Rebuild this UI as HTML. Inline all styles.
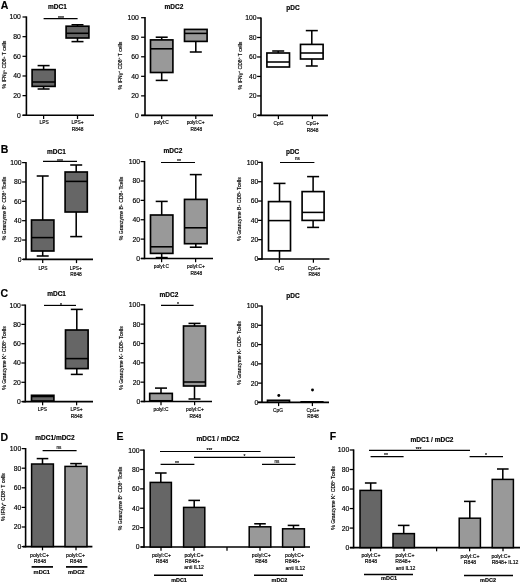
<!DOCTYPE html>
<html><head><meta charset="utf-8"><title>Figure</title>
<style>
html,body{margin:0;padding:0;background:#fff;}
svg{display:block;font-family:"Liberation Sans",sans-serif;}
text{stroke:#000;stroke-width:0.16px;}
</style></head>
<body>
<svg width="520" height="583" viewBox="0 0 520 583">
<rect width="520" height="583" fill="#fff"/>
<g>
<text x="0.80" y="9.00" font-size="10.5" text-anchor="start" font-weight="bold" fill="#000">A</text>
<line x1="26.40" y1="16.40" x2="26.40" y2="116.00" stroke="#000" stroke-width="1.6"/>
<line x1="22.60" y1="115.30" x2="94.00" y2="115.30" stroke="#000" stroke-width="1.6"/>
<line x1="22.50" y1="17.00" x2="26.40" y2="17.00" stroke="#000" stroke-width="1.25"/>
<text x="20.80" y="19.45" font-size="6.8" text-anchor="end" font-weight="normal" fill="#000">100</text>
<line x1="22.50" y1="36.66" x2="26.40" y2="36.66" stroke="#000" stroke-width="1.25"/>
<text x="20.80" y="39.11" font-size="6.8" text-anchor="end" font-weight="normal" fill="#000">80</text>
<line x1="22.50" y1="56.32" x2="26.40" y2="56.32" stroke="#000" stroke-width="1.25"/>
<text x="20.80" y="58.77" font-size="6.8" text-anchor="end" font-weight="normal" fill="#000">60</text>
<line x1="22.50" y1="75.98" x2="26.40" y2="75.98" stroke="#000" stroke-width="1.25"/>
<text x="20.80" y="78.43" font-size="6.8" text-anchor="end" font-weight="normal" fill="#000">40</text>
<line x1="22.50" y1="95.64" x2="26.40" y2="95.64" stroke="#000" stroke-width="1.25"/>
<text x="20.80" y="98.09" font-size="6.8" text-anchor="end" font-weight="normal" fill="#000">20</text>
<line x1="22.50" y1="115.30" x2="26.40" y2="115.30" stroke="#000" stroke-width="1.25"/>
<text x="20.80" y="117.75" font-size="6.8" text-anchor="end" font-weight="normal" fill="#000">0</text>
<line x1="43.60" y1="115.30" x2="43.60" y2="119.00" stroke="#000" stroke-width="1.25"/>
<line x1="77.50" y1="115.30" x2="77.50" y2="119.00" stroke="#000" stroke-width="1.25"/>
<line x1="43.60" y1="65.60" x2="43.60" y2="69.60" stroke="#000" stroke-width="1.55"/>
<line x1="37.60" y1="65.60" x2="49.60" y2="65.60" stroke="#000" stroke-width="1.55"/>
<line x1="43.60" y1="86.40" x2="43.60" y2="89.00" stroke="#000" stroke-width="1.55"/>
<line x1="37.60" y1="89.00" x2="49.60" y2="89.00" stroke="#000" stroke-width="1.55"/>
<rect x="32.10" y="69.60" width="23.00" height="16.80" fill="#666666" stroke="#000" stroke-width="1.6500000000000001"/>
<line x1="32.10" y1="82.00" x2="55.10" y2="82.00" stroke="#000" stroke-width="1.55"/>
<line x1="77.50" y1="24.80" x2="77.50" y2="26.20" stroke="#000" stroke-width="1.55"/>
<line x1="71.50" y1="24.80" x2="83.50" y2="24.80" stroke="#000" stroke-width="1.55"/>
<line x1="77.50" y1="38.00" x2="77.50" y2="41.60" stroke="#000" stroke-width="1.55"/>
<line x1="71.50" y1="41.60" x2="83.50" y2="41.60" stroke="#000" stroke-width="1.55"/>
<rect x="66.10" y="26.20" width="22.80" height="11.80" fill="#666666" stroke="#000" stroke-width="1.6500000000000001"/>
<line x1="66.10" y1="33.30" x2="88.90" y2="33.30" stroke="#000" stroke-width="1.55"/>
<line x1="43.60" y1="18.60" x2="77.60" y2="18.60" stroke="#000" stroke-width="1.15"/>
<text x="61.00" y="19.70" font-size="5.0" text-anchor="middle" font-weight="normal" fill="#000">***</text>
<text x="57.50" y="9.30" font-size="6.5" text-anchor="middle" font-weight="bold" fill="#000">mDC1</text>
<text x="44.20" y="124.40" font-size="4.85" text-anchor="middle" font-weight="normal" fill="#000">LPS</text>
<text x="77.60" y="124.20" font-size="4.85" text-anchor="middle" font-weight="normal" fill="#000">LPS+</text>
<text x="77.60" y="130.60" font-size="4.85" text-anchor="middle" font-weight="normal" fill="#000">R848</text>
<text transform="translate(6.45,64.50) rotate(-90)" font-size="5.1" text-anchor="middle" fill="#000">% IFNγ<tspan dy="-1.6" font-size="3">+</tspan><tspan dy="1.6"> CD8</tspan><tspan dy="-1.6" font-size="3">+</tspan><tspan dy="1.6"> T cells</tspan></text>
<line x1="145.00" y1="17.10" x2="145.00" y2="116.10" stroke="#000" stroke-width="1.6"/>
<line x1="141.20" y1="115.40" x2="213.00" y2="115.40" stroke="#000" stroke-width="1.6"/>
<line x1="141.10" y1="17.70" x2="145.00" y2="17.70" stroke="#000" stroke-width="1.25"/>
<text x="138.80" y="20.15" font-size="6.8" text-anchor="end" font-weight="normal" fill="#000">100</text>
<line x1="141.10" y1="37.24" x2="145.00" y2="37.24" stroke="#000" stroke-width="1.25"/>
<text x="138.80" y="39.69" font-size="6.8" text-anchor="end" font-weight="normal" fill="#000">80</text>
<line x1="141.10" y1="56.78" x2="145.00" y2="56.78" stroke="#000" stroke-width="1.25"/>
<text x="138.80" y="59.23" font-size="6.8" text-anchor="end" font-weight="normal" fill="#000">60</text>
<line x1="141.10" y1="76.32" x2="145.00" y2="76.32" stroke="#000" stroke-width="1.25"/>
<text x="138.80" y="78.77" font-size="6.8" text-anchor="end" font-weight="normal" fill="#000">40</text>
<line x1="141.10" y1="95.86" x2="145.00" y2="95.86" stroke="#000" stroke-width="1.25"/>
<text x="138.80" y="98.31" font-size="6.8" text-anchor="end" font-weight="normal" fill="#000">20</text>
<line x1="141.10" y1="115.40" x2="145.00" y2="115.40" stroke="#000" stroke-width="1.25"/>
<text x="138.80" y="117.85" font-size="6.8" text-anchor="end" font-weight="normal" fill="#000">0</text>
<line x1="161.70" y1="115.40" x2="161.70" y2="119.10" stroke="#000" stroke-width="1.25"/>
<line x1="195.80" y1="115.40" x2="195.80" y2="119.10" stroke="#000" stroke-width="1.25"/>
<line x1="161.70" y1="37.20" x2="161.70" y2="39.90" stroke="#000" stroke-width="1.55"/>
<line x1="155.70" y1="37.20" x2="167.70" y2="37.20" stroke="#000" stroke-width="1.55"/>
<line x1="161.70" y1="72.50" x2="161.70" y2="80.40" stroke="#000" stroke-width="1.55"/>
<line x1="155.70" y1="80.40" x2="167.70" y2="80.40" stroke="#000" stroke-width="1.55"/>
<rect x="150.50" y="39.90" width="22.40" height="32.60" fill="#999999" stroke="#000" stroke-width="1.6500000000000001"/>
<line x1="150.50" y1="48.80" x2="172.90" y2="48.80" stroke="#000" stroke-width="1.55"/>
<line x1="195.80" y1="41.40" x2="195.80" y2="52.00" stroke="#000" stroke-width="1.55"/>
<line x1="189.80" y1="52.00" x2="201.80" y2="52.00" stroke="#000" stroke-width="1.55"/>
<rect x="184.50" y="29.40" width="22.60" height="12.00" fill="#999999" stroke="#000" stroke-width="1.6500000000000001"/>
<line x1="184.50" y1="33.40" x2="207.10" y2="33.40" stroke="#000" stroke-width="1.55"/>
<text x="173.90" y="8.80" font-size="6.5" text-anchor="middle" font-weight="bold" fill="#000">mDC2</text>
<text x="161.30" y="124.40" font-size="4.85" text-anchor="middle" font-weight="normal" fill="#000">polyI:C</text>
<text x="195.60" y="124.40" font-size="4.85" text-anchor="middle" font-weight="normal" fill="#000">polyI:C+</text>
<text x="196.40" y="130.60" font-size="4.85" text-anchor="middle" font-weight="normal" fill="#000">R848</text>
<text transform="translate(121.75,65.50) rotate(-90)" font-size="5.1" text-anchor="middle" fill="#000">% IFNγ<tspan dy="-1.6" font-size="3">+</tspan><tspan dy="1.6"> CD8</tspan><tspan dy="-1.6" font-size="3">+</tspan><tspan dy="1.6"> T cells</tspan></text>
<line x1="261.00" y1="17.40" x2="261.00" y2="116.10" stroke="#000" stroke-width="1.6"/>
<line x1="258.00" y1="115.40" x2="328.00" y2="115.40" stroke="#000" stroke-width="1.6"/>
<line x1="257.10" y1="18.00" x2="261.00" y2="18.00" stroke="#000" stroke-width="1.25"/>
<text x="256.60" y="20.45" font-size="6.8" text-anchor="end" font-weight="normal" fill="#000">100</text>
<line x1="257.10" y1="37.48" x2="261.00" y2="37.48" stroke="#000" stroke-width="1.25"/>
<text x="256.60" y="39.93" font-size="6.8" text-anchor="end" font-weight="normal" fill="#000">80</text>
<line x1="257.10" y1="56.96" x2="261.00" y2="56.96" stroke="#000" stroke-width="1.25"/>
<text x="256.60" y="59.41" font-size="6.8" text-anchor="end" font-weight="normal" fill="#000">60</text>
<line x1="257.10" y1="76.44" x2="261.00" y2="76.44" stroke="#000" stroke-width="1.25"/>
<text x="256.60" y="78.89" font-size="6.8" text-anchor="end" font-weight="normal" fill="#000">40</text>
<line x1="257.10" y1="95.92" x2="261.00" y2="95.92" stroke="#000" stroke-width="1.25"/>
<text x="256.60" y="98.37" font-size="6.8" text-anchor="end" font-weight="normal" fill="#000">20</text>
<line x1="257.10" y1="115.40" x2="261.00" y2="115.40" stroke="#000" stroke-width="1.25"/>
<text x="256.60" y="117.85" font-size="6.8" text-anchor="end" font-weight="normal" fill="#000">0</text>
<line x1="278.40" y1="115.40" x2="278.40" y2="119.10" stroke="#000" stroke-width="1.25"/>
<line x1="312.40" y1="115.40" x2="312.40" y2="119.10" stroke="#000" stroke-width="1.25"/>
<line x1="278.20" y1="51.00" x2="278.20" y2="53.00" stroke="#000" stroke-width="1.55"/>
<line x1="272.20" y1="51.00" x2="284.20" y2="51.00" stroke="#000" stroke-width="1.55"/>
<rect x="266.90" y="53.00" width="22.60" height="14.00" fill="#ffffff" stroke="#000" stroke-width="1.6500000000000001"/>
<line x1="266.90" y1="62.00" x2="289.50" y2="62.00" stroke="#000" stroke-width="1.55"/>
<line x1="311.80" y1="30.60" x2="311.80" y2="44.40" stroke="#000" stroke-width="1.55"/>
<line x1="305.80" y1="30.60" x2="317.80" y2="30.60" stroke="#000" stroke-width="1.55"/>
<line x1="311.80" y1="59.00" x2="311.80" y2="66.00" stroke="#000" stroke-width="1.55"/>
<line x1="305.80" y1="66.00" x2="317.80" y2="66.00" stroke="#000" stroke-width="1.55"/>
<rect x="300.50" y="44.40" width="22.60" height="14.60" fill="#ffffff" stroke="#000" stroke-width="1.6500000000000001"/>
<line x1="300.50" y1="53.00" x2="323.10" y2="53.00" stroke="#000" stroke-width="1.55"/>
<text x="293.00" y="10.40" font-size="6.5" text-anchor="middle" font-weight="bold" fill="#000">pDC</text>
<text x="278.60" y="125.40" font-size="4.85" text-anchor="middle" font-weight="normal" fill="#000">CpG</text>
<text x="312.60" y="125.40" font-size="4.85" text-anchor="middle" font-weight="normal" fill="#000">CpG+</text>
<text x="312.60" y="132.00" font-size="4.85" text-anchor="middle" font-weight="normal" fill="#000">R848</text>
<text transform="translate(241.75,65.50) rotate(-90)" font-size="5.1" text-anchor="middle" fill="#000">% IFNγ<tspan dy="-1.6" font-size="3">+</tspan><tspan dy="1.6"> CD8</tspan><tspan dy="-1.6" font-size="3">+</tspan><tspan dy="1.6"> T cells</tspan></text>
<text x="0.80" y="153.40" font-size="10.5" text-anchor="start" font-weight="bold" fill="#000">B</text>
<line x1="26.00" y1="162.00" x2="26.00" y2="260.10" stroke="#000" stroke-width="1.6"/>
<line x1="23.00" y1="259.40" x2="93.00" y2="259.40" stroke="#000" stroke-width="1.6"/>
<line x1="22.10" y1="162.60" x2="26.00" y2="162.60" stroke="#000" stroke-width="1.25"/>
<text x="21.60" y="165.05" font-size="6.8" text-anchor="end" font-weight="normal" fill="#000">100</text>
<line x1="22.10" y1="181.96" x2="26.00" y2="181.96" stroke="#000" stroke-width="1.25"/>
<text x="21.60" y="184.41" font-size="6.8" text-anchor="end" font-weight="normal" fill="#000">80</text>
<line x1="22.10" y1="201.32" x2="26.00" y2="201.32" stroke="#000" stroke-width="1.25"/>
<text x="21.60" y="203.77" font-size="6.8" text-anchor="end" font-weight="normal" fill="#000">60</text>
<line x1="22.10" y1="220.68" x2="26.00" y2="220.68" stroke="#000" stroke-width="1.25"/>
<text x="21.60" y="223.13" font-size="6.8" text-anchor="end" font-weight="normal" fill="#000">40</text>
<line x1="22.10" y1="240.04" x2="26.00" y2="240.04" stroke="#000" stroke-width="1.25"/>
<text x="21.60" y="242.49" font-size="6.8" text-anchor="end" font-weight="normal" fill="#000">20</text>
<line x1="22.10" y1="259.40" x2="26.00" y2="259.40" stroke="#000" stroke-width="1.25"/>
<text x="21.60" y="261.85" font-size="6.8" text-anchor="end" font-weight="normal" fill="#000">0</text>
<line x1="42.70" y1="259.40" x2="42.70" y2="263.10" stroke="#000" stroke-width="1.25"/>
<line x1="76.50" y1="259.40" x2="76.50" y2="263.10" stroke="#000" stroke-width="1.25"/>
<line x1="42.70" y1="176.00" x2="42.70" y2="220.00" stroke="#000" stroke-width="1.55"/>
<line x1="36.70" y1="176.00" x2="48.70" y2="176.00" stroke="#000" stroke-width="1.55"/>
<line x1="42.70" y1="251.00" x2="42.70" y2="256.00" stroke="#000" stroke-width="1.55"/>
<line x1="36.70" y1="256.00" x2="48.70" y2="256.00" stroke="#000" stroke-width="1.55"/>
<rect x="31.50" y="220.00" width="22.40" height="31.00" fill="#666666" stroke="#000" stroke-width="1.6500000000000001"/>
<line x1="31.50" y1="237.60" x2="53.90" y2="237.60" stroke="#000" stroke-width="1.55"/>
<line x1="76.20" y1="165.00" x2="76.20" y2="172.00" stroke="#000" stroke-width="1.55"/>
<line x1="70.20" y1="165.00" x2="82.20" y2="165.00" stroke="#000" stroke-width="1.55"/>
<line x1="76.20" y1="212.00" x2="76.20" y2="236.60" stroke="#000" stroke-width="1.55"/>
<line x1="70.20" y1="236.60" x2="82.20" y2="236.60" stroke="#000" stroke-width="1.55"/>
<rect x="65.10" y="172.00" width="22.20" height="40.00" fill="#666666" stroke="#000" stroke-width="1.6500000000000001"/>
<line x1="65.10" y1="181.40" x2="87.30" y2="181.40" stroke="#000" stroke-width="1.55"/>
<line x1="43.00" y1="161.40" x2="77.00" y2="161.40" stroke="#000" stroke-width="1.15"/>
<text x="60.00" y="162.50" font-size="5.0" text-anchor="middle" font-weight="normal" fill="#000">***</text>
<text x="56.40" y="154.00" font-size="6.5" text-anchor="middle" font-weight="bold" fill="#000">mDC1</text>
<text x="43.00" y="270.00" font-size="4.85" text-anchor="middle" font-weight="normal" fill="#000">LPS</text>
<text x="75.80" y="270.00" font-size="4.85" text-anchor="middle" font-weight="normal" fill="#000">LPS+</text>
<text x="76.00" y="276.00" font-size="4.85" text-anchor="middle" font-weight="normal" fill="#000">R848</text>
<text transform="translate(5.65,208.50) rotate(-90)" font-size="5.1" text-anchor="middle" fill="#000">% Granzyme B<tspan dy="-1.6" font-size="3">+</tspan><tspan dy="1.6"> CD8</tspan><tspan dy="-1.6" font-size="3">+</tspan><tspan dy="1.6"> Tcells</tspan></text>
<line x1="144.50" y1="161.00" x2="144.50" y2="259.20" stroke="#000" stroke-width="1.6"/>
<line x1="141.00" y1="258.50" x2="213.00" y2="258.50" stroke="#000" stroke-width="1.6"/>
<line x1="140.60" y1="161.60" x2="144.50" y2="161.60" stroke="#000" stroke-width="1.25"/>
<text x="140.10" y="164.05" font-size="6.8" text-anchor="end" font-weight="normal" fill="#000">100</text>
<line x1="140.60" y1="180.98" x2="144.50" y2="180.98" stroke="#000" stroke-width="1.25"/>
<text x="140.10" y="183.43" font-size="6.8" text-anchor="end" font-weight="normal" fill="#000">80</text>
<line x1="140.60" y1="200.36" x2="144.50" y2="200.36" stroke="#000" stroke-width="1.25"/>
<text x="140.10" y="202.81" font-size="6.8" text-anchor="end" font-weight="normal" fill="#000">60</text>
<line x1="140.60" y1="219.74" x2="144.50" y2="219.74" stroke="#000" stroke-width="1.25"/>
<text x="140.10" y="222.19" font-size="6.8" text-anchor="end" font-weight="normal" fill="#000">40</text>
<line x1="140.60" y1="239.12" x2="144.50" y2="239.12" stroke="#000" stroke-width="1.25"/>
<text x="140.10" y="241.57" font-size="6.8" text-anchor="end" font-weight="normal" fill="#000">20</text>
<line x1="140.60" y1="258.50" x2="144.50" y2="258.50" stroke="#000" stroke-width="1.25"/>
<text x="140.10" y="260.95" font-size="6.8" text-anchor="end" font-weight="normal" fill="#000">0</text>
<line x1="161.60" y1="258.50" x2="161.60" y2="262.20" stroke="#000" stroke-width="1.25"/>
<line x1="195.60" y1="258.50" x2="195.60" y2="262.20" stroke="#000" stroke-width="1.25"/>
<line x1="161.70" y1="201.40" x2="161.70" y2="215.00" stroke="#000" stroke-width="1.55"/>
<line x1="155.70" y1="201.40" x2="167.70" y2="201.40" stroke="#000" stroke-width="1.55"/>
<line x1="161.70" y1="253.40" x2="161.70" y2="257.60" stroke="#000" stroke-width="1.55"/>
<line x1="155.70" y1="257.60" x2="167.70" y2="257.60" stroke="#000" stroke-width="1.55"/>
<rect x="150.50" y="215.00" width="22.40" height="38.40" fill="#999999" stroke="#000" stroke-width="1.6500000000000001"/>
<line x1="150.50" y1="246.80" x2="172.90" y2="246.80" stroke="#000" stroke-width="1.55"/>
<line x1="195.80" y1="174.60" x2="195.80" y2="199.40" stroke="#000" stroke-width="1.55"/>
<line x1="189.80" y1="174.60" x2="201.80" y2="174.60" stroke="#000" stroke-width="1.55"/>
<line x1="195.80" y1="243.70" x2="195.80" y2="247.20" stroke="#000" stroke-width="1.55"/>
<line x1="189.80" y1="247.20" x2="201.80" y2="247.20" stroke="#000" stroke-width="1.55"/>
<rect x="184.50" y="199.40" width="22.60" height="44.30" fill="#999999" stroke="#000" stroke-width="1.6500000000000001"/>
<line x1="184.50" y1="227.80" x2="207.10" y2="227.80" stroke="#000" stroke-width="1.55"/>
<line x1="161.00" y1="162.50" x2="195.00" y2="162.50" stroke="#000" stroke-width="1.15"/>
<text x="179.00" y="162.50" font-size="5.0" text-anchor="middle" font-weight="normal" fill="#000">**</text>
<text x="173.00" y="153.40" font-size="6.5" text-anchor="middle" font-weight="bold" fill="#000">mDC2</text>
<text x="161.40" y="268.30" font-size="4.85" text-anchor="middle" font-weight="normal" fill="#000">polyI:C</text>
<text x="196.00" y="268.40" font-size="4.85" text-anchor="middle" font-weight="normal" fill="#000">polyI:C+</text>
<text x="196.40" y="275.00" font-size="4.85" text-anchor="middle" font-weight="normal" fill="#000">R848</text>
<text transform="translate(123.25,208.50) rotate(-90)" font-size="5.1" text-anchor="middle" fill="#000">% Granzyme B<tspan dy="-1.6" font-size="3">+</tspan><tspan dy="1.6"> CD8</tspan><tspan dy="-1.6" font-size="3">+</tspan><tspan dy="1.6"> Tcells</tspan></text>
<line x1="262.00" y1="161.80" x2="262.00" y2="259.70" stroke="#000" stroke-width="1.6"/>
<line x1="258.00" y1="259.00" x2="329.40" y2="259.00" stroke="#000" stroke-width="1.6"/>
<line x1="258.10" y1="162.40" x2="262.00" y2="162.40" stroke="#000" stroke-width="1.25"/>
<text x="258.20" y="164.85" font-size="6.8" text-anchor="end" font-weight="normal" fill="#000">100</text>
<line x1="258.10" y1="181.72" x2="262.00" y2="181.72" stroke="#000" stroke-width="1.25"/>
<text x="258.20" y="184.17" font-size="6.8" text-anchor="end" font-weight="normal" fill="#000">80</text>
<line x1="258.10" y1="201.04" x2="262.00" y2="201.04" stroke="#000" stroke-width="1.25"/>
<text x="258.20" y="203.49" font-size="6.8" text-anchor="end" font-weight="normal" fill="#000">60</text>
<line x1="258.10" y1="220.36" x2="262.00" y2="220.36" stroke="#000" stroke-width="1.25"/>
<text x="258.20" y="222.81" font-size="6.8" text-anchor="end" font-weight="normal" fill="#000">40</text>
<line x1="258.10" y1="239.68" x2="262.00" y2="239.68" stroke="#000" stroke-width="1.25"/>
<text x="258.20" y="242.13" font-size="6.8" text-anchor="end" font-weight="normal" fill="#000">20</text>
<line x1="258.10" y1="259.00" x2="262.00" y2="259.00" stroke="#000" stroke-width="1.25"/>
<text x="258.20" y="261.45" font-size="6.8" text-anchor="end" font-weight="normal" fill="#000">0</text>
<line x1="279.40" y1="259.00" x2="279.40" y2="262.70" stroke="#000" stroke-width="1.25"/>
<line x1="313.40" y1="259.00" x2="313.40" y2="262.70" stroke="#000" stroke-width="1.25"/>
<line x1="279.50" y1="183.40" x2="279.50" y2="201.60" stroke="#000" stroke-width="1.55"/>
<line x1="273.50" y1="183.40" x2="285.50" y2="183.40" stroke="#000" stroke-width="1.55"/>
<line x1="279.50" y1="250.80" x2="279.50" y2="258.60" stroke="#000" stroke-width="1.55"/>
<rect x="268.50" y="201.60" width="22.00" height="49.20" fill="#ffffff" stroke="#000" stroke-width="1.6500000000000001"/>
<line x1="268.50" y1="220.60" x2="290.50" y2="220.60" stroke="#000" stroke-width="1.55"/>
<line x1="313.10" y1="176.60" x2="313.10" y2="191.60" stroke="#000" stroke-width="1.55"/>
<line x1="307.10" y1="176.60" x2="319.10" y2="176.60" stroke="#000" stroke-width="1.55"/>
<line x1="313.10" y1="220.40" x2="313.10" y2="227.40" stroke="#000" stroke-width="1.55"/>
<line x1="307.10" y1="227.40" x2="319.10" y2="227.40" stroke="#000" stroke-width="1.55"/>
<rect x="302.10" y="191.60" width="22.00" height="28.80" fill="#ffffff" stroke="#000" stroke-width="1.6500000000000001"/>
<line x1="302.10" y1="212.40" x2="324.10" y2="212.40" stroke="#000" stroke-width="1.55"/>
<line x1="280.00" y1="162.50" x2="314.40" y2="162.50" stroke="#000" stroke-width="1.15"/>
<text x="297.40" y="160.30" font-size="4.6" text-anchor="middle" font-weight="normal" fill="#000">ns</text>
<text x="292.60" y="153.80" font-size="6.5" text-anchor="middle" font-weight="bold" fill="#000">pDC</text>
<text x="279.40" y="269.60" font-size="4.85" text-anchor="middle" font-weight="normal" fill="#000">CpG</text>
<text x="314.20" y="269.60" font-size="4.85" text-anchor="middle" font-weight="normal" fill="#000">CpG+</text>
<text x="314.20" y="275.80" font-size="4.85" text-anchor="middle" font-weight="normal" fill="#000">R848</text>
<text transform="translate(241.25,209.00) rotate(-90)" font-size="5.1" text-anchor="middle" fill="#000">% Granzyme B<tspan dy="-1.6" font-size="3">+</tspan><tspan dy="1.6"> CD8</tspan><tspan dy="-1.6" font-size="3">+</tspan><tspan dy="1.6"> Tcells</tspan></text>
<text x="0.40" y="297.20" font-size="10.5" text-anchor="start" font-weight="bold" fill="#000">C</text>
<line x1="25.30" y1="304.50" x2="25.30" y2="402.30" stroke="#000" stroke-width="1.6"/>
<line x1="22.40" y1="401.60" x2="93.00" y2="401.60" stroke="#000" stroke-width="1.6"/>
<line x1="21.40" y1="305.10" x2="25.30" y2="305.10" stroke="#000" stroke-width="1.25"/>
<text x="20.90" y="307.55" font-size="6.8" text-anchor="end" font-weight="normal" fill="#000">100</text>
<line x1="21.40" y1="324.40" x2="25.30" y2="324.40" stroke="#000" stroke-width="1.25"/>
<text x="20.90" y="326.85" font-size="6.8" text-anchor="end" font-weight="normal" fill="#000">80</text>
<line x1="21.40" y1="343.70" x2="25.30" y2="343.70" stroke="#000" stroke-width="1.25"/>
<text x="20.90" y="346.15" font-size="6.8" text-anchor="end" font-weight="normal" fill="#000">60</text>
<line x1="21.40" y1="363.00" x2="25.30" y2="363.00" stroke="#000" stroke-width="1.25"/>
<text x="20.90" y="365.45" font-size="6.8" text-anchor="end" font-weight="normal" fill="#000">40</text>
<line x1="21.40" y1="382.30" x2="25.30" y2="382.30" stroke="#000" stroke-width="1.25"/>
<text x="20.90" y="384.75" font-size="6.8" text-anchor="end" font-weight="normal" fill="#000">20</text>
<line x1="21.40" y1="401.60" x2="25.30" y2="401.60" stroke="#000" stroke-width="1.25"/>
<text x="20.90" y="404.05" font-size="6.8" text-anchor="end" font-weight="normal" fill="#000">0</text>
<line x1="42.60" y1="401.60" x2="42.60" y2="405.30" stroke="#000" stroke-width="1.25"/>
<line x1="76.60" y1="401.60" x2="76.60" y2="405.30" stroke="#000" stroke-width="1.25"/>
<rect x="31.50" y="395.30" width="22.40" height="5.70" fill="#666666" stroke="#000" stroke-width="1.6500000000000001"/>
<line x1="31.50" y1="396.50" x2="53.90" y2="396.50" stroke="#000" stroke-width="1.55"/>
<line x1="76.80" y1="309.40" x2="76.80" y2="330.00" stroke="#000" stroke-width="1.55"/>
<line x1="70.80" y1="309.40" x2="82.80" y2="309.40" stroke="#000" stroke-width="1.55"/>
<line x1="76.80" y1="368.60" x2="76.80" y2="374.40" stroke="#000" stroke-width="1.55"/>
<line x1="70.80" y1="374.40" x2="82.80" y2="374.40" stroke="#000" stroke-width="1.55"/>
<rect x="65.50" y="330.00" width="22.60" height="38.60" fill="#666666" stroke="#000" stroke-width="1.6500000000000001"/>
<line x1="65.50" y1="358.60" x2="88.10" y2="358.60" stroke="#000" stroke-width="1.55"/>
<line x1="44.00" y1="305.40" x2="76.00" y2="305.40" stroke="#000" stroke-width="1.15"/>
<text x="61.00" y="306.50" font-size="5.0" text-anchor="middle" font-weight="normal" fill="#000">*</text>
<text x="56.60" y="296.40" font-size="6.5" text-anchor="middle" font-weight="bold" fill="#000">mDC1</text>
<text x="42.40" y="411.20" font-size="4.85" text-anchor="middle" font-weight="normal" fill="#000">LPS</text>
<text x="76.60" y="411.20" font-size="4.85" text-anchor="middle" font-weight="normal" fill="#000">LPS+</text>
<text x="76.60" y="417.60" font-size="4.85" text-anchor="middle" font-weight="normal" fill="#000">R848</text>
<text transform="translate(5.65,358.00) rotate(-90)" font-size="5.1" text-anchor="middle" fill="#000">% Granzyme K<tspan dy="-1.6" font-size="3">+</tspan><tspan dy="1.6"> CD8</tspan><tspan dy="-1.6" font-size="3">+</tspan><tspan dy="1.6"> Tcells</tspan></text>
<line x1="144.40" y1="304.20" x2="144.40" y2="402.20" stroke="#000" stroke-width="1.6"/>
<line x1="141.00" y1="401.50" x2="212.00" y2="401.50" stroke="#000" stroke-width="1.6"/>
<line x1="140.50" y1="304.80" x2="144.40" y2="304.80" stroke="#000" stroke-width="1.25"/>
<text x="140.20" y="307.25" font-size="6.8" text-anchor="end" font-weight="normal" fill="#000">100</text>
<line x1="140.50" y1="324.14" x2="144.40" y2="324.14" stroke="#000" stroke-width="1.25"/>
<text x="140.20" y="326.59" font-size="6.8" text-anchor="end" font-weight="normal" fill="#000">80</text>
<line x1="140.50" y1="343.48" x2="144.40" y2="343.48" stroke="#000" stroke-width="1.25"/>
<text x="140.20" y="345.93" font-size="6.8" text-anchor="end" font-weight="normal" fill="#000">60</text>
<line x1="140.50" y1="362.82" x2="144.40" y2="362.82" stroke="#000" stroke-width="1.25"/>
<text x="140.20" y="365.27" font-size="6.8" text-anchor="end" font-weight="normal" fill="#000">40</text>
<line x1="140.50" y1="382.16" x2="144.40" y2="382.16" stroke="#000" stroke-width="1.25"/>
<text x="140.20" y="384.61" font-size="6.8" text-anchor="end" font-weight="normal" fill="#000">20</text>
<line x1="140.50" y1="401.50" x2="144.40" y2="401.50" stroke="#000" stroke-width="1.25"/>
<text x="140.20" y="403.95" font-size="6.8" text-anchor="end" font-weight="normal" fill="#000">0</text>
<line x1="161.00" y1="401.50" x2="161.00" y2="405.20" stroke="#000" stroke-width="1.25"/>
<line x1="194.60" y1="401.50" x2="194.60" y2="405.20" stroke="#000" stroke-width="1.25"/>
<line x1="161.00" y1="388.10" x2="161.00" y2="393.40" stroke="#000" stroke-width="1.55"/>
<line x1="155.00" y1="388.10" x2="167.00" y2="388.10" stroke="#000" stroke-width="1.55"/>
<rect x="149.70" y="393.40" width="22.60" height="7.40" fill="#999999" stroke="#000" stroke-width="1.6500000000000001"/>
<line x1="194.50" y1="323.40" x2="194.50" y2="326.00" stroke="#000" stroke-width="1.55"/>
<line x1="188.50" y1="323.40" x2="200.50" y2="323.40" stroke="#000" stroke-width="1.55"/>
<line x1="194.50" y1="386.00" x2="194.50" y2="399.00" stroke="#000" stroke-width="1.55"/>
<line x1="188.50" y1="399.00" x2="200.50" y2="399.00" stroke="#000" stroke-width="1.55"/>
<rect x="183.50" y="326.00" width="22.00" height="60.00" fill="#999999" stroke="#000" stroke-width="1.6500000000000001"/>
<line x1="183.50" y1="382.00" x2="205.50" y2="382.00" stroke="#000" stroke-width="1.55"/>
<line x1="161.00" y1="305.40" x2="193.60" y2="305.40" stroke="#000" stroke-width="1.15"/>
<text x="178.00" y="306.10" font-size="5.0" text-anchor="middle" font-weight="normal" fill="#000">*</text>
<text x="169.00" y="296.80" font-size="6.5" text-anchor="middle" font-weight="bold" fill="#000">mDC2</text>
<text x="161.00" y="411.40" font-size="4.85" text-anchor="middle" font-weight="normal" fill="#000">polyI:C</text>
<text x="195.00" y="411.20" font-size="4.85" text-anchor="middle" font-weight="normal" fill="#000">polyI:C+</text>
<text x="195.40" y="417.60" font-size="4.85" text-anchor="middle" font-weight="normal" fill="#000">R848</text>
<text transform="translate(123.25,358.00) rotate(-90)" font-size="5.1" text-anchor="middle" fill="#000">% Granzyme K<tspan dy="-1.6" font-size="3">+</tspan><tspan dy="1.6"> CD8</tspan><tspan dy="-1.6" font-size="3">+</tspan><tspan dy="1.6"> Tcells</tspan></text>
<line x1="262.00" y1="305.40" x2="262.00" y2="403.10" stroke="#000" stroke-width="1.6"/>
<line x1="258.00" y1="402.40" x2="329.00" y2="402.40" stroke="#000" stroke-width="1.6"/>
<line x1="258.10" y1="306.00" x2="262.00" y2="306.00" stroke="#000" stroke-width="1.25"/>
<text x="258.20" y="308.45" font-size="6.8" text-anchor="end" font-weight="normal" fill="#000">100</text>
<line x1="258.10" y1="325.28" x2="262.00" y2="325.28" stroke="#000" stroke-width="1.25"/>
<text x="258.20" y="327.73" font-size="6.8" text-anchor="end" font-weight="normal" fill="#000">80</text>
<line x1="258.10" y1="344.56" x2="262.00" y2="344.56" stroke="#000" stroke-width="1.25"/>
<text x="258.20" y="347.01" font-size="6.8" text-anchor="end" font-weight="normal" fill="#000">60</text>
<line x1="258.10" y1="363.84" x2="262.00" y2="363.84" stroke="#000" stroke-width="1.25"/>
<text x="258.20" y="366.29" font-size="6.8" text-anchor="end" font-weight="normal" fill="#000">40</text>
<line x1="258.10" y1="383.12" x2="262.00" y2="383.12" stroke="#000" stroke-width="1.25"/>
<text x="258.20" y="385.57" font-size="6.8" text-anchor="end" font-weight="normal" fill="#000">20</text>
<line x1="258.10" y1="402.40" x2="262.00" y2="402.40" stroke="#000" stroke-width="1.25"/>
<text x="258.20" y="404.85" font-size="6.8" text-anchor="end" font-weight="normal" fill="#000">0</text>
<line x1="278.60" y1="402.40" x2="278.60" y2="406.10" stroke="#000" stroke-width="1.25"/>
<line x1="312.40" y1="402.40" x2="312.40" y2="406.10" stroke="#000" stroke-width="1.25"/>
<rect x="267.50" y="400.30" width="22.00" height="1.90" fill="#ffffff" stroke="#000" stroke-width="1.6500000000000001"/>
<line x1="300.40" y1="401.60" x2="323.60" y2="401.60" stroke="#000" stroke-width="1.2"/>
<circle cx="278.8" cy="395.5" r="1.45" fill="#000"/>
<circle cx="312.5" cy="390" r="1.45" fill="#000"/>
<text x="293.00" y="298.40" font-size="6.5" text-anchor="middle" font-weight="bold" fill="#000">pDC</text>
<text x="278.00" y="412.00" font-size="4.85" text-anchor="middle" font-weight="normal" fill="#000">CpG</text>
<text x="313.00" y="412.00" font-size="4.85" text-anchor="middle" font-weight="normal" fill="#000">CpG+</text>
<text x="313.00" y="418.40" font-size="4.85" text-anchor="middle" font-weight="normal" fill="#000">R848</text>
<text transform="translate(241.25,353.00) rotate(-90)" font-size="5.1" text-anchor="middle" fill="#000">% Granzyme K<tspan dy="-1.6" font-size="3">+</tspan><tspan dy="1.6"> CD8</tspan><tspan dy="-1.6" font-size="3">+</tspan><tspan dy="1.6"> Tcells</tspan></text>
<text x="0.40" y="441.00" font-size="10.5" text-anchor="start" font-weight="bold" fill="#000">D</text>
<line x1="25.60" y1="448.00" x2="25.60" y2="547.30" stroke="#000" stroke-width="1.6"/>
<line x1="23.00" y1="546.60" x2="92.40" y2="546.60" stroke="#000" stroke-width="1.6"/>
<line x1="21.70" y1="448.60" x2="25.60" y2="448.60" stroke="#000" stroke-width="1.25"/>
<text x="21.20" y="451.05" font-size="6.8" text-anchor="end" font-weight="normal" fill="#000">100</text>
<line x1="21.70" y1="468.20" x2="25.60" y2="468.20" stroke="#000" stroke-width="1.25"/>
<text x="21.20" y="470.65" font-size="6.8" text-anchor="end" font-weight="normal" fill="#000">80</text>
<line x1="21.70" y1="487.80" x2="25.60" y2="487.80" stroke="#000" stroke-width="1.25"/>
<text x="21.20" y="490.25" font-size="6.8" text-anchor="end" font-weight="normal" fill="#000">60</text>
<line x1="21.70" y1="507.40" x2="25.60" y2="507.40" stroke="#000" stroke-width="1.25"/>
<text x="21.20" y="509.85" font-size="6.8" text-anchor="end" font-weight="normal" fill="#000">40</text>
<line x1="21.70" y1="527.00" x2="25.60" y2="527.00" stroke="#000" stroke-width="1.25"/>
<text x="21.20" y="529.45" font-size="6.8" text-anchor="end" font-weight="normal" fill="#000">20</text>
<line x1="21.70" y1="546.60" x2="25.60" y2="546.60" stroke="#000" stroke-width="1.25"/>
<text x="21.20" y="549.05" font-size="6.8" text-anchor="end" font-weight="normal" fill="#000">0</text>
<line x1="42.50" y1="546.60" x2="42.50" y2="550.30" stroke="#000" stroke-width="1.25"/>
<line x1="76.00" y1="546.60" x2="76.00" y2="550.30" stroke="#000" stroke-width="1.25"/>
<line x1="42.50" y1="458.60" x2="42.50" y2="464.00" stroke="#000" stroke-width="1.55"/>
<line x1="36.70" y1="458.60" x2="48.30" y2="458.60" stroke="#000" stroke-width="1.55"/>
<rect x="31.60" y="464.00" width="21.80" height="82.60" fill="#666666" stroke="#000" stroke-width="1.5"/>
<line x1="76.00" y1="463.60" x2="76.00" y2="466.40" stroke="#000" stroke-width="1.55"/>
<line x1="70.20" y1="463.60" x2="81.80" y2="463.60" stroke="#000" stroke-width="1.55"/>
<rect x="65.00" y="466.40" width="22.00" height="80.20" fill="#999999" stroke="#000" stroke-width="1.5"/>
<line x1="42.60" y1="450.60" x2="76.60" y2="450.60" stroke="#000" stroke-width="1.15"/>
<text x="59.00" y="449.30" font-size="4.6" text-anchor="middle" font-weight="normal" fill="#000">ns</text>
<text x="55.00" y="440.40" font-size="6.5" text-anchor="middle" font-weight="bold" fill="#000">mDC1/mDC2</text>
<text x="39.60" y="556.95" font-size="5.15" text-anchor="middle" font-weight="normal" fill="#000">polyI:C+</text>
<text x="40.00" y="562.95" font-size="5.15" text-anchor="middle" font-weight="normal" fill="#000">R848</text>
<text x="75.60" y="556.95" font-size="5.15" text-anchor="middle" font-weight="normal" fill="#000">polyI:C+</text>
<text x="76.00" y="562.95" font-size="5.15" text-anchor="middle" font-weight="normal" fill="#000">R848</text>
<line x1="31.60" y1="566.90" x2="53.00" y2="566.90" stroke="#000" stroke-width="1.7"/>
<line x1="66.00" y1="566.90" x2="87.40" y2="566.90" stroke="#000" stroke-width="1.7"/>
<text x="41.80" y="573.50" font-size="5.7" text-anchor="middle" font-weight="bold" fill="#000">mDC1</text>
<text x="76.20" y="573.50" font-size="5.7" text-anchor="middle" font-weight="bold" fill="#000">mDC2</text>
<text transform="translate(4.75,497.00) rotate(-90)" font-size="5.1" text-anchor="middle" fill="#000">% IFNγ<tspan dy="-1.6" font-size="3">+</tspan><tspan dy="1.6"> CD8</tspan><tspan dy="-1.6" font-size="3">+</tspan><tspan dy="1.6"> T cells</tspan></text>
<text x="116.60" y="440.30" font-size="10.5" text-anchor="start" font-weight="bold" fill="#000">E</text>
<line x1="144.00" y1="449.50" x2="144.00" y2="547.70" stroke="#000" stroke-width="1.6"/>
<line x1="141.00" y1="547.00" x2="310.00" y2="547.00" stroke="#000" stroke-width="1.6"/>
<line x1="140.10" y1="450.10" x2="144.00" y2="450.10" stroke="#000" stroke-width="1.25"/>
<text x="139.60" y="452.55" font-size="6.8" text-anchor="end" font-weight="normal" fill="#000">100</text>
<line x1="140.10" y1="469.48" x2="144.00" y2="469.48" stroke="#000" stroke-width="1.25"/>
<text x="139.60" y="471.93" font-size="6.8" text-anchor="end" font-weight="normal" fill="#000">80</text>
<line x1="140.10" y1="488.86" x2="144.00" y2="488.86" stroke="#000" stroke-width="1.25"/>
<text x="139.60" y="491.31" font-size="6.8" text-anchor="end" font-weight="normal" fill="#000">60</text>
<line x1="140.10" y1="508.24" x2="144.00" y2="508.24" stroke="#000" stroke-width="1.25"/>
<text x="139.60" y="510.69" font-size="6.8" text-anchor="end" font-weight="normal" fill="#000">40</text>
<line x1="140.10" y1="527.62" x2="144.00" y2="527.62" stroke="#000" stroke-width="1.25"/>
<text x="139.60" y="530.07" font-size="6.8" text-anchor="end" font-weight="normal" fill="#000">20</text>
<line x1="140.10" y1="547.00" x2="144.00" y2="547.00" stroke="#000" stroke-width="1.25"/>
<text x="139.60" y="549.45" font-size="6.8" text-anchor="end" font-weight="normal" fill="#000">0</text>
<line x1="161.00" y1="547.00" x2="161.00" y2="550.70" stroke="#000" stroke-width="1.25"/>
<line x1="194.00" y1="547.00" x2="194.00" y2="550.70" stroke="#000" stroke-width="1.25"/>
<line x1="227.00" y1="547.00" x2="227.00" y2="550.70" stroke="#000" stroke-width="1.25"/>
<line x1="260.00" y1="547.00" x2="260.00" y2="550.70" stroke="#000" stroke-width="1.25"/>
<line x1="293.60" y1="547.00" x2="293.60" y2="550.70" stroke="#000" stroke-width="1.25"/>
<line x1="160.80" y1="473.00" x2="160.80" y2="482.40" stroke="#000" stroke-width="1.55"/>
<line x1="155.00" y1="473.00" x2="166.60" y2="473.00" stroke="#000" stroke-width="1.55"/>
<rect x="150.20" y="482.40" width="21.20" height="64.60" fill="#666666" stroke="#000" stroke-width="1.5"/>
<line x1="194.20" y1="500.40" x2="194.20" y2="507.40" stroke="#000" stroke-width="1.55"/>
<line x1="188.40" y1="500.40" x2="200.00" y2="500.40" stroke="#000" stroke-width="1.55"/>
<rect x="183.60" y="507.40" width="21.20" height="39.60" fill="#666666" stroke="#000" stroke-width="1.5"/>
<line x1="260.00" y1="523.80" x2="260.00" y2="526.80" stroke="#000" stroke-width="1.55"/>
<line x1="254.20" y1="523.80" x2="265.80" y2="523.80" stroke="#000" stroke-width="1.55"/>
<rect x="249.20" y="526.80" width="21.60" height="20.20" fill="#999999" stroke="#000" stroke-width="1.5"/>
<line x1="293.50" y1="525.40" x2="293.50" y2="528.80" stroke="#000" stroke-width="1.55"/>
<line x1="287.70" y1="525.40" x2="299.30" y2="525.40" stroke="#000" stroke-width="1.55"/>
<rect x="282.60" y="528.80" width="21.80" height="18.20" fill="#999999" stroke="#000" stroke-width="1.5"/>
<line x1="160.00" y1="451.50" x2="260.60" y2="451.50" stroke="#000" stroke-width="1.15"/>
<text x="209.40" y="451.70" font-size="5.0" text-anchor="middle" font-weight="normal" fill="#000">***</text>
<line x1="194.00" y1="457.40" x2="295.00" y2="457.40" stroke="#000" stroke-width="1.15"/>
<text x="244.40" y="457.90" font-size="5.0" text-anchor="middle" font-weight="normal" fill="#000">*</text>
<line x1="160.60" y1="464.40" x2="194.40" y2="464.40" stroke="#000" stroke-width="1.15"/>
<text x="177.00" y="465.10" font-size="5.0" text-anchor="middle" font-weight="normal" fill="#000">**</text>
<line x1="262.00" y1="464.40" x2="295.60" y2="464.40" stroke="#000" stroke-width="1.15"/>
<text x="277.00" y="462.80" font-size="4.6" text-anchor="middle" font-weight="normal" fill="#000">ns</text>
<text x="218.00" y="441.40" font-size="6.5" text-anchor="middle" font-weight="bold" fill="#000">mDC1 / mDC2</text>
<text x="161.40" y="557.15" font-size="5.15" text-anchor="middle" font-weight="normal" fill="#000">polyI:C+</text>
<text x="162.00" y="562.95" font-size="5.15" text-anchor="middle" font-weight="normal" fill="#000">R848</text>
<text x="194.00" y="557.15" font-size="5.15" text-anchor="middle" font-weight="normal" fill="#000">polyI:C+</text>
<text x="192.60" y="562.95" font-size="5.15" text-anchor="middle" font-weight="normal" fill="#000">R848+</text>
<text x="194.00" y="569.05" font-size="5.15" text-anchor="middle" font-weight="normal" fill="#000">anti IL12</text>
<text x="261.30" y="557.05" font-size="5.15" text-anchor="middle" font-weight="normal" fill="#000">polyI:C+</text>
<text x="261.30" y="563.05" font-size="5.15" text-anchor="middle" font-weight="normal" fill="#000">R848</text>
<text x="294.60" y="556.95" font-size="5.15" text-anchor="middle" font-weight="normal" fill="#000">polyI:C+</text>
<text x="292.60" y="562.55" font-size="5.15" text-anchor="middle" font-weight="normal" fill="#000">R848+</text>
<text x="295.30" y="570.05" font-size="5.15" text-anchor="middle" font-weight="normal" fill="#000">anti IL12</text>
<line x1="154.00" y1="575.30" x2="203.00" y2="575.30" stroke="#000" stroke-width="1.5"/>
<line x1="254.00" y1="575.30" x2="303.00" y2="575.30" stroke="#000" stroke-width="1.5"/>
<text x="179.00" y="582.00" font-size="5.4" text-anchor="middle" font-weight="bold" fill="#000">mDC1</text>
<text x="279.40" y="582.00" font-size="5.4" text-anchor="middle" font-weight="bold" fill="#000">mDC2</text>
<text transform="translate(121.55,498.50) rotate(-90)" font-size="5.1" text-anchor="middle" fill="#000">% Granzyme B<tspan dy="-1.6" font-size="3">+</tspan><tspan dy="1.6"> CD8</tspan><tspan dy="-1.6" font-size="3">+</tspan><tspan dy="1.6"> Tcells</tspan></text>
<text x="329.80" y="440.30" font-size="10.5" text-anchor="start" font-weight="bold" fill="#000">F</text>
<line x1="353.60" y1="449.40" x2="353.60" y2="548.30" stroke="#000" stroke-width="1.6"/>
<line x1="350.00" y1="547.60" x2="520.00" y2="547.60" stroke="#000" stroke-width="1.6"/>
<line x1="349.70" y1="450.00" x2="353.60" y2="450.00" stroke="#000" stroke-width="1.25"/>
<text x="349.20" y="452.45" font-size="6.8" text-anchor="end" font-weight="normal" fill="#000">100</text>
<line x1="349.70" y1="469.52" x2="353.60" y2="469.52" stroke="#000" stroke-width="1.25"/>
<text x="349.20" y="471.97" font-size="6.8" text-anchor="end" font-weight="normal" fill="#000">80</text>
<line x1="349.70" y1="489.04" x2="353.60" y2="489.04" stroke="#000" stroke-width="1.25"/>
<text x="349.20" y="491.49" font-size="6.8" text-anchor="end" font-weight="normal" fill="#000">60</text>
<line x1="349.70" y1="508.56" x2="353.60" y2="508.56" stroke="#000" stroke-width="1.25"/>
<text x="349.20" y="511.01" font-size="6.8" text-anchor="end" font-weight="normal" fill="#000">40</text>
<line x1="349.70" y1="528.08" x2="353.60" y2="528.08" stroke="#000" stroke-width="1.25"/>
<text x="349.20" y="530.53" font-size="6.8" text-anchor="end" font-weight="normal" fill="#000">20</text>
<line x1="349.70" y1="547.60" x2="353.60" y2="547.60" stroke="#000" stroke-width="1.25"/>
<text x="349.20" y="550.05" font-size="6.8" text-anchor="end" font-weight="normal" fill="#000">0</text>
<line x1="370.60" y1="547.60" x2="370.60" y2="551.30" stroke="#000" stroke-width="1.25"/>
<line x1="404.00" y1="547.60" x2="404.00" y2="551.30" stroke="#000" stroke-width="1.25"/>
<line x1="436.60" y1="547.60" x2="436.60" y2="551.30" stroke="#000" stroke-width="1.25"/>
<line x1="469.60" y1="547.60" x2="469.60" y2="551.30" stroke="#000" stroke-width="1.25"/>
<line x1="503.00" y1="547.60" x2="503.00" y2="551.30" stroke="#000" stroke-width="1.25"/>
<line x1="370.70" y1="483.00" x2="370.70" y2="490.40" stroke="#000" stroke-width="1.55"/>
<line x1="364.90" y1="483.00" x2="376.50" y2="483.00" stroke="#000" stroke-width="1.55"/>
<rect x="360.00" y="490.40" width="21.40" height="57.20" fill="#666666" stroke="#000" stroke-width="1.5"/>
<line x1="403.70" y1="525.40" x2="403.70" y2="533.60" stroke="#000" stroke-width="1.55"/>
<line x1="397.90" y1="525.40" x2="409.50" y2="525.40" stroke="#000" stroke-width="1.55"/>
<rect x="393.00" y="533.60" width="21.40" height="14.00" fill="#666666" stroke="#000" stroke-width="1.5"/>
<line x1="469.80" y1="501.40" x2="469.80" y2="518.20" stroke="#000" stroke-width="1.55"/>
<line x1="464.00" y1="501.40" x2="475.60" y2="501.40" stroke="#000" stroke-width="1.55"/>
<rect x="459.20" y="518.20" width="21.20" height="29.40" fill="#999999" stroke="#000" stroke-width="1.5"/>
<line x1="502.80" y1="469.00" x2="502.80" y2="479.40" stroke="#000" stroke-width="1.55"/>
<line x1="497.00" y1="469.00" x2="508.60" y2="469.00" stroke="#000" stroke-width="1.55"/>
<rect x="492.20" y="479.40" width="21.20" height="68.20" fill="#999999" stroke="#000" stroke-width="1.5"/>
<line x1="369.00" y1="450.40" x2="470.00" y2="450.40" stroke="#000" stroke-width="1.15"/>
<text x="418.60" y="451.10" font-size="5.0" text-anchor="middle" font-weight="normal" fill="#000">***</text>
<line x1="370.60" y1="456.60" x2="403.60" y2="456.60" stroke="#000" stroke-width="1.15"/>
<text x="386.00" y="457.10" font-size="5.0" text-anchor="middle" font-weight="normal" fill="#000">**</text>
<line x1="469.60" y1="456.60" x2="503.00" y2="456.60" stroke="#000" stroke-width="1.15"/>
<text x="486.00" y="457.10" font-size="5.0" text-anchor="middle" font-weight="normal" fill="#000">*</text>
<text x="432.00" y="442.40" font-size="6.5" text-anchor="middle" font-weight="bold" fill="#000">mDC1 / mDC2</text>
<text x="371.00" y="557.35" font-size="5.15" text-anchor="middle" font-weight="normal" fill="#000">polyI:C+</text>
<text x="371.00" y="562.95" font-size="5.15" text-anchor="middle" font-weight="normal" fill="#000">R848</text>
<text x="405.00" y="557.35" font-size="5.15" text-anchor="middle" font-weight="normal" fill="#000">polyI:C+</text>
<text x="403.00" y="562.95" font-size="5.15" text-anchor="middle" font-weight="normal" fill="#000">R848+</text>
<text x="405.60" y="570.05" font-size="5.15" text-anchor="middle" font-weight="normal" fill="#000">anti IL12</text>
<text x="470.00" y="558.05" font-size="5.15" text-anchor="middle" font-weight="normal" fill="#000">polyI:C+</text>
<text x="470.00" y="564.05" font-size="5.15" text-anchor="middle" font-weight="normal" fill="#000">R848</text>
<text x="501.00" y="558.05" font-size="5.15" text-anchor="middle" font-weight="normal" fill="#000">polyI:C+</text>
<text x="505.00" y="564.05" font-size="5.15" text-anchor="middle" font-weight="normal" fill="#000">R848+ IL12</text>
<line x1="364.00" y1="574.60" x2="413.00" y2="574.60" stroke="#000" stroke-width="1.5"/>
<line x1="464.00" y1="575.40" x2="513.00" y2="575.40" stroke="#000" stroke-width="1.5"/>
<text x="389.00" y="580.00" font-size="5.5" text-anchor="middle" font-weight="bold" fill="#000">mDC1</text>
<text x="488.00" y="582.00" font-size="5.5" text-anchor="middle" font-weight="bold" fill="#000">mDC2</text>
<text transform="translate(334.55,498.00) rotate(-90)" font-size="5.1" text-anchor="middle" fill="#000">% Granzyme K<tspan dy="-1.6" font-size="3">+</tspan><tspan dy="1.6"> CD8</tspan><tspan dy="-1.6" font-size="3">+</tspan><tspan dy="1.6"> Tcells</tspan></text>
</g>
</svg>
</body></html>
